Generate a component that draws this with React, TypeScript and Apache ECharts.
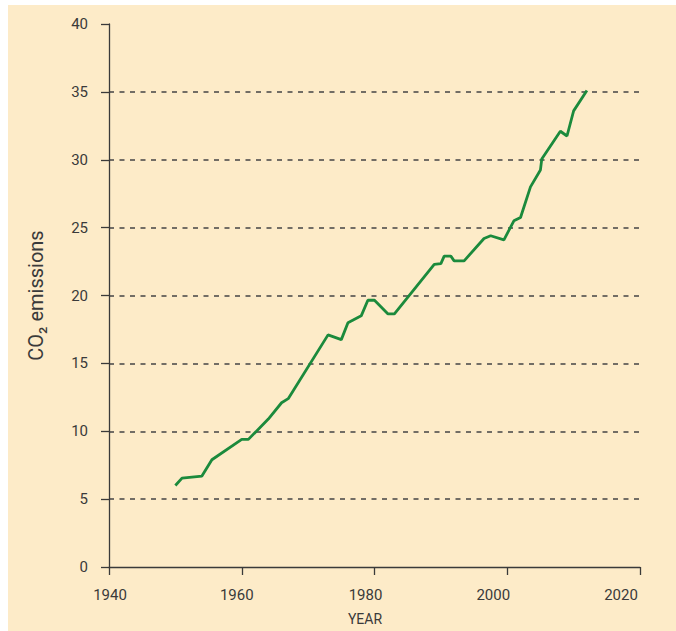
import React, { useEffect, useRef } from "react";
import * as echarts from "echarts";

const years = [
  1950, 1951, 1954, 1955.5, 1960, 1961, 1964, 1966, 1967, 1973, 1975, 1976, 1978,
  1979, 1980, 1982, 1983, 1989, 1990, 1990.5, 1991.5, 1992, 1993.5, 1996.5, 1997.5,
  1999.5, 2001, 2002, 2003.5, 2005, 2005.2, 2008, 2009, 2010, 2012,
];
const emissions = [
  6.0, 6.55, 6.7, 7.9, 9.4, 9.4, 10.9, 12.1, 12.4, 17.1, 16.75, 18.0, 18.5,
  19.65, 19.65, 18.65, 18.65, 22.3, 22.35, 22.9, 22.9, 22.55, 22.55, 24.2, 24.4,
  24.1, 25.5, 25.75, 28.0, 29.25, 30.05, 32.1, 31.75, 33.6, 35.1,
];
const xTicks = [1940, 1960, 1980, 2000, 2020];
const xLabelShift = [1, -5, -9, -14, -19];
const yAxisTitle = "CO₂ emissions";
const xAxisTitle = "YEAR";

const BG = "#fdebc8";
const INK = "#3a3a3a";
const FONT = "Roboto";

export default function App() {
  const ref = useRef<HTMLDivElement>(null);
  useEffect(() => {
    if (!ref.current) return;
    const chart = echarts.init(ref.current, null, { renderer: "svg" });
    const rich: Record<string, any> = {};
    xTicks.forEach((t, i) => {
      const s = xLabelShift[i];
      rich["r" + i] = {
        fontFamily: FONT,
        fontSize: 15,
        color: INK,
        padding: s < 0 ? [0, -2 * s, 0, 0] : [0, 0, 0, 2 * s],
      };
    });
    const splitColors = [0, 5, 10, 15, 20, 25, 30, 35, 40].map((v) =>
      v === 40 || v === 0 ? "rgba(0,0,0,0)" : "#444"
    );
    chart.setOption({
      animation: false,
      backgroundColor: BG,
      grid: { left: 101, right: 36, top: 19, bottom: 63 },
      xAxis: {
        type: "value",
        min: 1940,
        max: 2020,
        interval: 20,
        name: xAxisTitle,
        nameLocation: "middle",
        nameGap: 45,
        nameTextStyle: {
          fontFamily: FONT,
          fontSize: 14,
          color: INK,
          padding: [0, 19, 0, 0],
        },
        axisLine: { show: true, onZero: false, lineStyle: { color: INK, width: 1.3 } },
        axisTick: { show: true, length: 8, lineStyle: { color: INK, width: 1.3 } },
        splitLine: { show: false },
        axisLabel: {
          margin: 20,
          formatter: (v: number) => {
            const i = xTicks.indexOf(v);
            return `{r${i}|${v}}`;
          },
          rich,
        },
      },
      yAxis: {
        type: "value",
        min: 0,
        max: 40,
        interval: 5,
        name: yAxisTitle,
        nameLocation: "middle",
        nameRotate: 90,
        nameGap: 63,
        nameTextStyle: { fontFamily: FONT, fontSize: 20, color: INK },
        axisLine: { show: true, lineStyle: { color: INK, width: 1.3 } },
        axisTick: { show: true, length: 8, lineStyle: { color: INK, width: 1.3 } },
        axisLabel: { margin: 21, fontFamily: FONT, fontSize: 15, color: INK },
        splitLine: {
          show: true,
          lineStyle: { color: splitColors, width: 1.5, type: [5, 5.5] },
        },
      },
      series: [
        {
          type: "line",
          data: years.map((y, i) => [y, emissions[i]]),
          showSymbol: false,
          symbol: "none",
          lineStyle: { color: "#1b8a3c", width: 2.8 },
        },
      ],
    });
    return () => chart.dispose();
  }, []);
  return (
    <div
      ref={ref}
      style={{ position: "absolute", left: 8, top: 5, width: 668, height: 626 }}
    />
  );
}
